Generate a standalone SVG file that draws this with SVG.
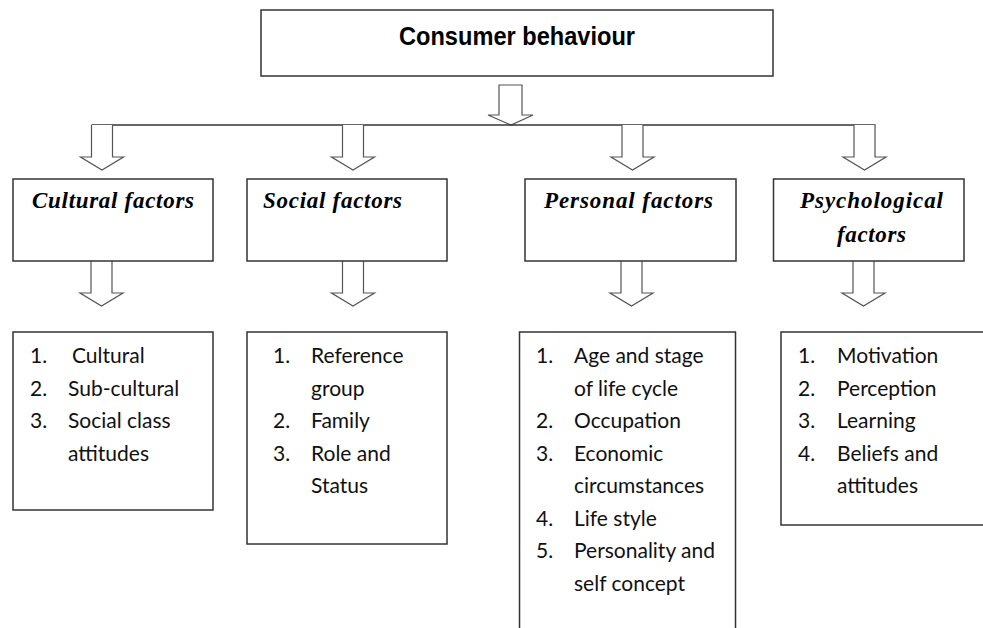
<svg xmlns="http://www.w3.org/2000/svg" width="983" height="628" viewBox="0 0 983 628">
<style>
.box{fill:#fff;stroke:#333;stroke-width:1.5}
.arr{fill:#fff;stroke:#555;stroke-width:1.2;stroke-linejoin:miter}
.line{stroke:#333;stroke-width:1.3;fill:none}
.title{font-family:"Liberation Sans",Arial,sans-serif;font-weight:bold;font-size:26px;fill:#000}
.head{font-family:"Liberation Serif","Times New Roman",serif;font-weight:bold;font-style:italic;font-size:23px;fill:#000}
.item{font-family:Lato,"Open Sans",sans-serif;font-size:21px;fill:#111}
</style>
<defs>
<path id="a" class="arr" d="M-10.5,0 V32 H-21.5 L0,45 L21.5,32 H10.5 V0"/>
</defs>
<rect width="983" height="628" fill="#fff"/>
<g id="connectors">
<path class="arr" d="M499,85 H522 V115 H533 L511,125 L488,115 H499 Z"/>
<line class="line" x1="91.5" y1="125" x2="875.5" y2="125"/>
<use href="#a" x="102" y="125"/>
<use href="#a" x="353" y="125"/>
<use href="#a" x="632.5" y="125"/>
<use href="#a" x="864.5" y="125"/>
<use href="#a" x="101.5" y="261"/>
<use href="#a" x="353" y="261"/>
<use href="#a" x="631.5" y="261"/>
<use href="#a" x="863.5" y="261"/>
</g>
<g id="consumer-behaviour">
<rect class="box" x="261" y="10" width="512" height="66"/>
<text class="title" x="399" y="45" textLength="236" lengthAdjust="spacingAndGlyphs">Consumer behaviour</text>
</g>
<g id="cultural-factors">
<rect class="box" x="13" y="179" width="200" height="82"/>
<text class="head" x="32" y="208" textLength="162">Cultural factors</text>
</g>
<g id="social-factors">
<rect class="box" x="247" y="179" width="200" height="82"/>
<text class="head" x="263" y="208" textLength="139">Social factors</text>
</g>
<g id="personal-factors">
<rect class="box" x="525" y="179" width="211" height="82"/>
<text class="head" x="544" y="208" textLength="169">Personal factors</text>
</g>
<g id="psychological-factors">
<rect class="box" x="773.5" y="179" width="190.5" height="82"/>
<text class="head" x="800" y="208" textLength="143">Psychological</text>
<text class="head" x="837" y="242" textLength="69">factors</text>
</g>
<g id="cultural-list">
<rect class="box" x="13" y="332" width="200" height="178"/>
<text class="item"><tspan x="30" y="363">1.</tspan><tspan x="72" y="363">Cultural</tspan><tspan x="30" y="395.5">2.</tspan><tspan x="68" y="395.5">Sub-cultural</tspan><tspan x="30" y="428">3.</tspan><tspan x="68" y="428">Social class</tspan><tspan x="68" y="460.5">attitudes</tspan></text>
</g>
<g id="social-list">
<rect class="box" x="247" y="332" width="200" height="212"/>
<text class="item"><tspan x="273" y="363">1.</tspan><tspan x="311" y="363">Reference</tspan><tspan x="311" y="395.5">group</tspan><tspan x="273" y="428">2.</tspan><tspan x="311" y="428">Family</tspan><tspan x="273" y="460.5">3.</tspan><tspan x="311" y="460.5">Role and</tspan><tspan x="311" y="493">Status</tspan></text>
</g>
<g id="personal-list">
<rect class="box" x="519.5" y="332" width="216" height="310"/>
<text class="item"><tspan x="536" y="363">1.</tspan><tspan x="574" y="363">Age and stage</tspan><tspan x="574" y="395.5">of life cycle</tspan><tspan x="536" y="428">2.</tspan><tspan x="574" y="428">Occupation</tspan><tspan x="536" y="460.5">3.</tspan><tspan x="574" y="460.5">Economic</tspan><tspan x="574" y="493">circumstances</tspan><tspan x="536" y="525.5">4.</tspan><tspan x="574" y="525.5">Life style</tspan><tspan x="536" y="558">5.</tspan><tspan x="574" y="558">Personality and</tspan><tspan x="574" y="590.5">self concept</tspan></text>
</g>
<g id="psychological-list">
<rect class="box" x="781" y="332" width="210" height="193"/>
<text class="item"><tspan x="798" y="363">1.</tspan><tspan x="837" y="363">Motivation</tspan><tspan x="798" y="395.5">2.</tspan><tspan x="837" y="395.5">Perception</tspan><tspan x="798" y="428">3.</tspan><tspan x="837" y="428">Learning</tspan><tspan x="798" y="460.5">4.</tspan><tspan x="837" y="460.5">Beliefs and</tspan><tspan x="837" y="493">attitudes</tspan></text>
</g>
</svg>
